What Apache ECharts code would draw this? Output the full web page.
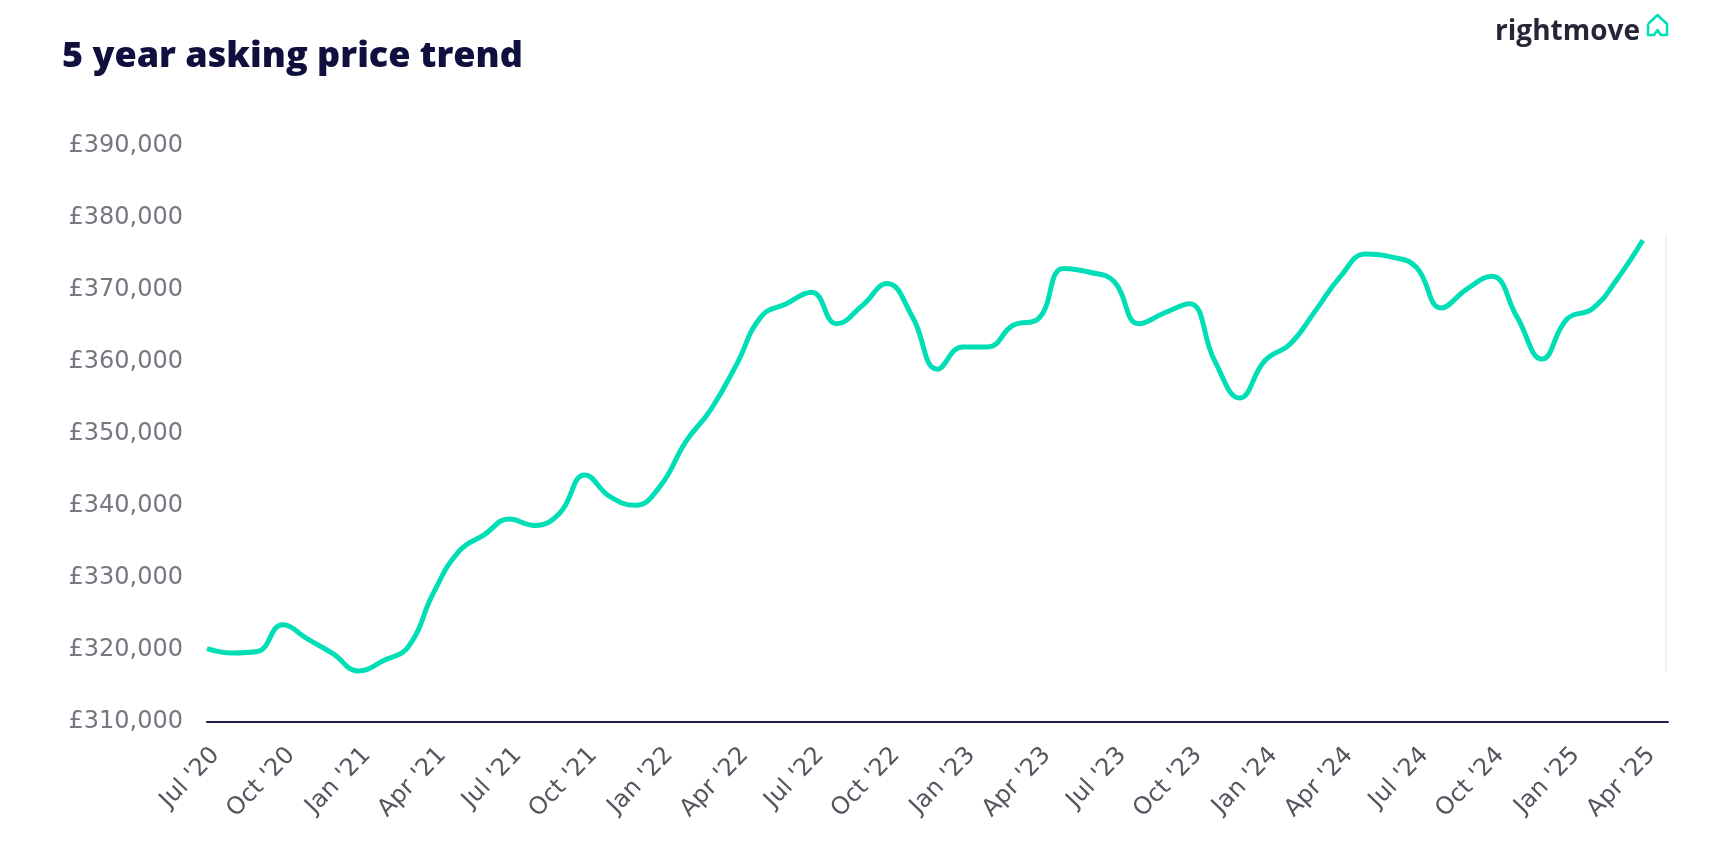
<!DOCTYPE html>
<html><head><meta charset="utf-8">
<script src="https://cdn.jsdelivr.net/npm/echarts@6/dist/echarts.min.js"></script>
<style>html,body{margin:0;padding:0;background:#fff;}#c{width:1712px;height:862px;}</style>
</head><body><div id="c"></div>
<script>
const months = ["Jul '20","Aug '20","Sep '20","Oct '20","Nov '20","Dec '20",
"Jan '21","Feb '21","Mar '21","Apr '21","May '21","Jun '21","Jul '21","Aug '21","Sep '21","Oct '21","Nov '21","Dec '21",
"Jan '22","Feb '22","Mar '22","Apr '22","May '22","Jun '22","Jul '22","Aug '22","Sep '22","Oct '22","Nov '22","Dec '22",
"Jan '23","Feb '23","Mar '23","Apr '23","May '23","Jun '23","Jul '23","Aug '23","Sep '23","Oct '23","Nov '23","Dec '23",
"Jan '24","Feb '24","Mar '24","Apr '24","May '24","Jun '24","Jul '24","Aug '24","Sep '24","Oct '24","Nov '24","Dec '24",
"Jan '25","Feb '25","Mar '25","Apr '25","May '25"];
const askingPrice = [320200,319600,319800,323500,321500,319500,
317100,318500,320500,328000,333700,336000,338200,337300,339000,344300,341300,340100,
342800,348900,353400,359500,366300,368100,369700,365300,367800,370900,366300,359000,
362100,362100,365100,366000,373000,372500,371200,365300,366800,368100,360200,355000,
360200,362500,367100,371900,375000,374600,373200,367500,370100,371900,366300,360400,
366000,367400,371600,376900,null];
const yMin = 310000, yMax = 390000, yStep = 10000;
const titleText = "5 year asking price trend";
const logoText = "rightmove";

const chart = echarts.init(document.getElementById('c'), null, {renderer:'canvas'});
const baseOption = {
  animation:false,
  backgroundColor:'#ffffff',
  title:{text:titleText,left:57,top:34,textStyle:{fontFamily:'Open Sans',fontWeight:800,fontSize:36,color:'#10103e'}},
  grid:{left:207,right:44,top:146,bottom:140,containLabel:false},
  xAxis:{type:'category',data:months,boundaryGap:false,
    axisLine:{lineStyle:{color:'#1f1f4a',width:2}},axisTick:{show:false},
    axisLabel:{interval:2,rotate:46,margin:21,verticalAlign:'top',fontFamily:'DejaVu Sans',fontSize:24,color:'#55555f'},
    splitLine:{show:false}},
  yAxis:{type:'value',min:yMin,max:yMax,interval:yStep,
    axisLine:{show:false},axisTick:{show:false},splitLine:{show:false},
    axisLabel:{margin:24,fontFamily:'DejaVu Sans',fontSize:24,color:'#777782',
      formatter:v=>'£'+v.toLocaleString('en-GB')}},
  series:[{type:'line',data:askingPrice,smooth:0.45,showSymbol:false,
    lineStyle:{color:'#00deb6',width:5}}]
};
chart.setOption(baseOption);
const edgeTop = chart.convertToPixel({gridIndex:0},[months.length-1,377700]);
const edgeBot = chart.convertToPixel({gridIndex:0},[months.length-1,317000]);
chart.setOption({graphic:[
  {id:'logo',type:'text',x:1640,y:32,style:{text:logoText,font:'bold 28px "Open Sans"',fill:'#262637',align:'right',verticalAlign:'middle'}},
  {id:'house',type:'polyline',shape:{points:[[1648,24],[1657.5,15],[1667,24],[1667,35],[1661,35],[1657.5,30],[1654,35],[1648,35],[1648,24]]},
   style:{fill:'none',stroke:'#00deb6',lineWidth:2.5,lineJoin:'round'}},
  {id:'edge',type:'line',shape:{x1:edgeTop[0]-2,y1:edgeTop[1],x2:edgeBot[0]-2,y2:edgeBot[1]},style:{stroke:'#ececf0',lineWidth:1.5}}
]});
</script></body></html>
